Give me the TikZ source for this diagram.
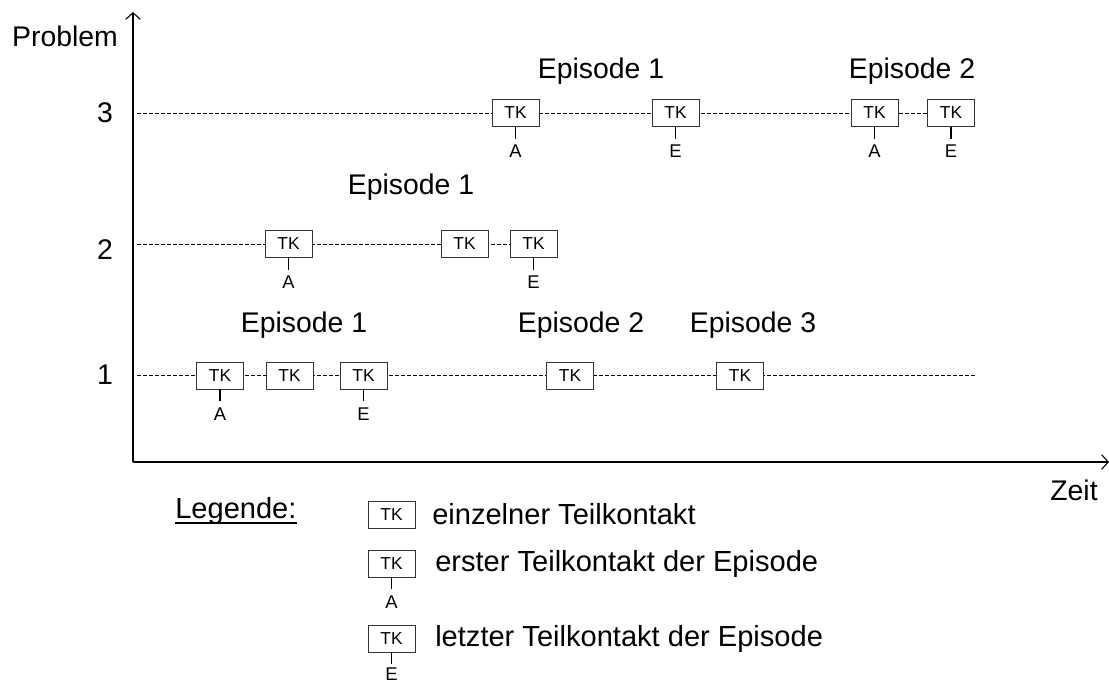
\documentclass[tikz,border=0pt]{standalone}
\usepackage{fontspec}
\setmainfont{Liberation Sans}
\usetikzlibrary{arrows.meta,positioning}
\pgfdeclarelayer{background}
\pgfsetlayers{background,main}
\begin{document}
\begin{tikzpicture}[x=0.75pt,y=-0.75pt,
  big/.style={font=\fontsize{21.3}{25}\selectfont, inner sep=0pt},
  legtext/.style={font=\fontsize{21.8}{25}\selectfont, inner sep=0pt, anchor=base west},
  tk/.style={draw=black!80, fill=white, line width=0.6pt, minimum width=35.25pt,
    minimum height=20.25pt, inner sep=0pt, font=\fontsize{13}{15}\selectfont},
  tklab/.style={font=\fontsize{13.8}{15}\selectfont, inner xsep=0pt, inner ysep=4.3pt, below=9pt of #1},
  axis/.style={line width=0.8pt, -{Straight Barb[length=5pt,width=11pt]}},
  level/.style={dash pattern=on 3pt off 1.5pt, line width=0.5pt},
  tick/.style={line width=1pt}]
\useasboundingbox (0,0) rectangle (1109,684);

% axes
\coordinate (O) at (133,462);
\coordinate (ytop) at (133,12);
\coordinate (xend) at (1109,462);
\draw[axis] (O) -- (ytop);
\draw[axis] (O) -- (xend);
\node[big] (problem) at (65,36) {Problem};
\node[big] (zeit) at (1074,490) {Zeit};

% problem levels
\node[big] (n3) at (105,113) {3};
\node[big] (n2) at (105,250) {2};
\node[big] (n1) at (105,375) {1};

% level 3
\node[tk] (b3a) at (515.5,113) {TK};
\node[tk] (b3b) at (675.5,113) {TK};
\node[tk] (b3c) at (874.5,113) {TK};
\node[tk] (b3d) at (951,113) {TK};
\node[tklab=b3a] (l3a) {A};
\node[tklab=b3b] (l3b) {E};
\node[tklab=b3c] (l3c) {A};
\node[tklab=b3d] (l3d) {E};
\node[big] (ep31) at (601,71) {Episode 1};
\node[big] (ep32) at (912,71) {Episode 2};

% level 2
\node[tk] (b2a) at (288.5,244) {TK};
\node[tk] (b2b) at (464.5,244) {TK};
\node[tk] (b2c) at (533.5,244) {TK};
\node[tklab=b2a] (l2a) {A};
\node[tklab=b2c] (l2c) {E};
\node[big] (ep21) at (411,187) {Episode 1};

% level 1
\node[tk] (b1a) at (220,375.5) {TK};
\node[tk] (b1b) at (289.5,375.5) {TK};
\node[tk] (b1c) at (363.5,375.5) {TK};
\node[tk] (b1d) at (570,375.5) {TK};
\node[tk] (b1e) at (740,375.5) {TK};
\node[tklab=b1a] (l1a) {A};
\node[tklab=b1c] (l1c) {E};
\node[big] (ep11) at (304,325) {Episode 1};
\node[big] (ep12) at (581,325) {Episode 2};
\node[big] (ep13) at (753,325) {Episode 3};

% ticks from contacts to their markers
\foreach \b/\l in {b3a/l3a,b3b/l3b,b3c/l3c,b3d/l3d,b2a/l2a,b2c/l2c,b1a/l1a,b1c/l1c}
  \draw[tick] (\b) -- (\l);

% dashed time lines behind the contacts
\coordinate (s3) at (137,113);
\coordinate (s2) at (137,244);
\coordinate (s1) at (137,375.5);
\coordinate (e1) at (975,375.5);
\begin{pgfonlayer}{background}
  \draw[level] (s3) -- (b3d.west);
  \draw[level] (s2) -- (b2c.west);
  \draw[level] (s1) -- (e1);
\end{pgfonlayer}

% legend
\node[legtext] (leg) at (175,518) {Legende:};
\draw[line width=0.9pt] ([yshift=-3.7pt]leg.base west) -- ([yshift=-3.7pt]leg.base east);
\node[tk] (g1) at (391.5,514.5) {TK};
\node[tk] (g2) at (391.5,563.5) {TK};
\node[tk] (g3) at (391.5,639) {TK};
\node[tklab=g2] (gl2) {A};
\node[tklab=g3, inner ysep=3.2pt, below=8pt of g3] (gl3) {E};
\draw[tick] (g2) -- (gl2);
\draw[tick] (g3) -- (gl3);
\node[legtext] (t1) at (432,524) {einzelner Teilkontakt};
\node[legtext] (t2) at (435,571) {erster Teilkontakt der Episode};
\node[legtext] (t3) at (435,646) {letzter Teilkontakt der Episode};
\end{tikzpicture}
\end{document}
